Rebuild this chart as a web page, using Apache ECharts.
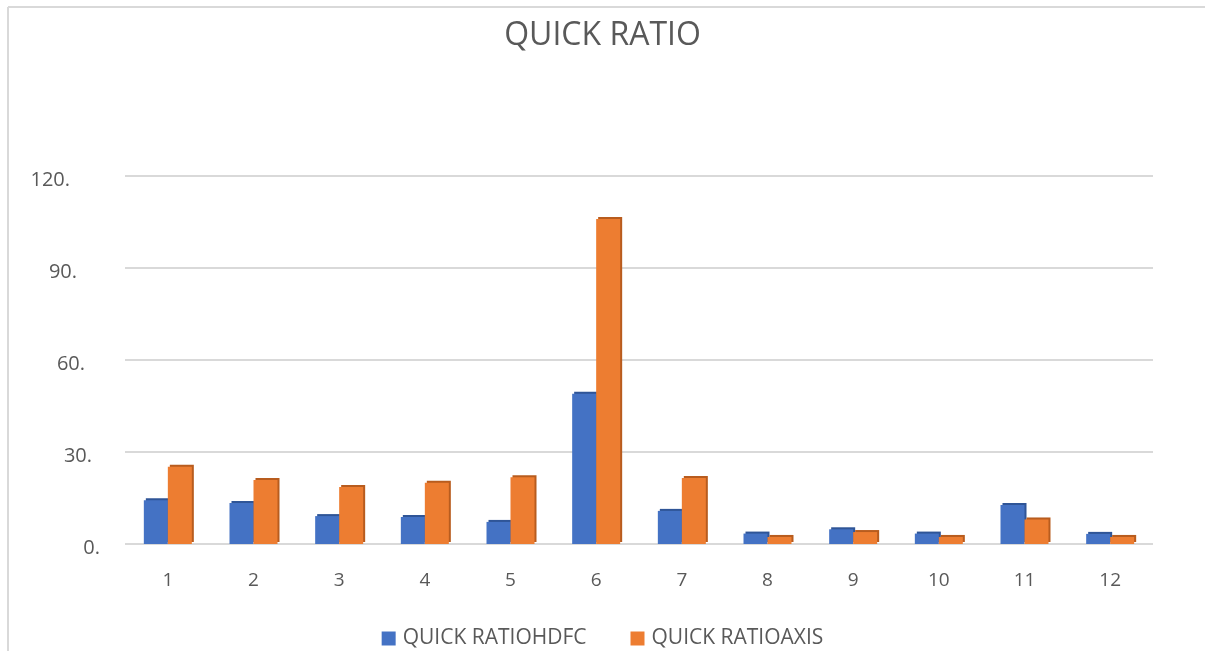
<!DOCTYPE html>
<html>
<head>
<meta charset="utf-8">
<script src="https://cdn.jsdelivr.net/npm/echarts@6/dist/echarts.min.js"></script>
<style>
  html, body { margin: 0; padding: 0; background: #fff; }
  #chart { width: 1205px; height: 651px; }
</style>
</head>
<body>
<div id="chart"></div>
<script>
// Quick ratio per period, HDFC vs AXIS
const categories = ['1', '2', '3', '4', '5', '6', '7', '8', '9', '10', '11', '12'];
const hdfcValues = [14.3, 13.4, 9.1, 8.8, 7.2, 49.0, 10.8, 3.4, 4.8, 3.4, 12.7, 3.3];
const axisValues = [25.2, 20.9, 18.6, 20.0, 21.8, 106.0, 21.5, 2.3, 3.9, 2.3, 8.0, 2.3];
const seriesNames = ['QUICK RATIOHDFC', 'QUICK RATIOAXIS'];
const yTicks = [0, 30, 60, 90, 120];

const FONT = '"Open Sans", "Liberation Sans", sans-serif';
const TEXT = '#595959';

// each tick label sits a little further left as the value rises (perspective of the back wall)
const rich = {};
yTicks.forEach(function (v) {
  rich['t' + v] = {
    fontFamily: FONT, fontSize: 20, color: TEXT,
    padding: [9, Math.round(v / 120 * 30), 0, 0]
  };
});

function shade(base, dark) {
  return {
    color: base,
    shadowColor: dark,
    shadowOffsetX: 2,
    shadowOffsetY: -2,
    shadowBlur: 0
  };
}

const chart = echarts.init(document.getElementById('chart'));
chart.setOption({
  animation: false,
  backgroundColor: '#ffffff',
  title: {
    text: 'QUICK RATIO',
    left: 'center',
    top: 15,
    textStyle: { fontFamily: FONT, fontSize: 32, fontWeight: 'normal', color: TEXT }
  },
  legend: {
    top: 623,
    left: 'center',
    itemWidth: 14,
    itemHeight: 14,
    itemGap: 44,
    icon: 'rect',
    textStyle: { fontFamily: FONT, fontSize: 21, color: TEXT, padding: [0, 0, 0, 2] },
    data: seriesNames
  },
  grid: { left: 125, right: 52, top: 176, bottom: 107, containLabel: false },
  xAxis: {
    type: 'category',
    data: categories,
    axisLine: { show: false },
    axisTick: { show: false },
    axisLabel: { fontFamily: FONT, fontSize: 19, color: TEXT, margin: 27 }
  },
  yAxis: {
    type: 'value',
    min: 0,
    max: 120,
    interval: 30,
    axisLine: { show: false },
    axisTick: { show: false },
    splitLine: { lineStyle: { color: '#d9d9d9', width: 2 } },
    axisLabel: {
      margin: 25,
      formatter: function (v) { return '{t' + v + '|' + v + '.}'; },
      rich: rich
    }
  },
  series: [
    {
      name: seriesNames[0],
      type: 'bar',
      data: hdfcValues,
      barWidth: 24,
      barGap: '0%',
      itemStyle: shade('#4472c4', '#2f5597')
    },
    {
      name: seriesNames[1],
      type: 'bar',
      data: axisValues,
      barWidth: 24,
      barGap: '0%',
      itemStyle: shade('#ed7d31', '#b85c1e')
    }
  ],
  graphic: [
    // chart frame: top and left edges
    { type: 'line', shape: { x1: 8, y1: 7, x2: 1205, y2: 7 }, style: { stroke: '#d9d9d9', lineWidth: 2 }, silent: true },
    { type: 'line', shape: { x1: 8, y1: 7, x2: 8, y2: 651 }, style: { stroke: '#d9d9d9', lineWidth: 2 }, silent: true }
  ]
});
</script>
</body>
</html>
